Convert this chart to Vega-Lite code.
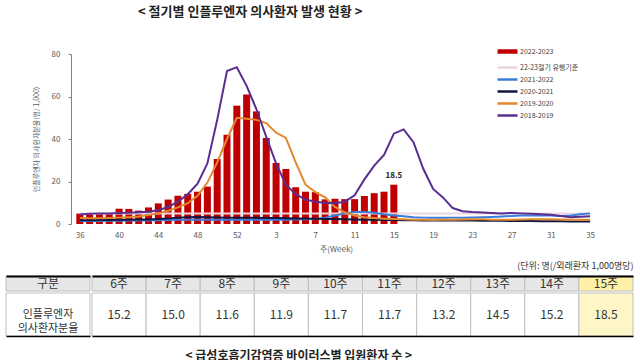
{
  "$schema": "https://vega.github.io/schema/vega-lite/v6.json",
  "background": "white",
  "padding": {"left": 5, "top": 6, "right": 5, "bottom": 0},
  "config": {
    "view": {"stroke": null},
    "font": "Noto Sans CJK KR",
    "title": {"font": "Noto Sans CJK KR", "color": "#222222"},
    "axis": {"labelFont": "Noto Sans CJK KR", "titleFont": "Noto Sans CJK KR", "labelOverlap": false},
    "axisX": {"labelOverlap": false, "labelSeparation": 0},
    "axisQuantitative": {"labelOverlap": false},
    "legend": {"labelFont": "Noto Sans CJK KR"}
  },
  "datasets": {
    "bars": [
      {"week": "36", "series": "2022-2023", "v": 4.9}, {"week": "37", "series": "2022-2023", "v": 4.7},
      {"week": "38", "series": "2022-2023", "v": 4.7}, {"week": "39", "series": "2022-2023", "v": 4.7},
      {"week": "40", "series": "2022-2023", "v": 7.2}, {"week": "41", "series": "2022-2023", "v": 7.1},
      {"week": "42", "series": "2022-2023", "v": 6.3}, {"week": "43", "series": "2022-2023", "v": 7.8},
      {"week": "44", "series": "2022-2023", "v": 9.7}, {"week": "45", "series": "2022-2023", "v": 11.5},
      {"week": "46", "series": "2022-2023", "v": 13.3}, {"week": "47", "series": "2022-2023", "v": 14.2},
      {"week": "48", "series": "2022-2023", "v": 15.2}, {"week": "49", "series": "2022-2023", "v": 17.6},
      {"week": "50", "series": "2022-2023", "v": 30.6}, {"week": "51", "series": "2022-2023", "v": 42.0},
      {"week": "52", "series": "2022-2023", "v": 55.7}, {"week": "53", "series": "2022-2023", "v": 60.9},
      {"week": "1", "series": "2022-2023", "v": 53.0}, {"week": "2", "series": "2022-2023", "v": 40.5},
      {"week": "3", "series": "2022-2023", "v": 28.7}, {"week": "4", "series": "2022-2023", "v": 25.9},
      {"week": "5", "series": "2022-2023", "v": 17.3}, {"week": "6", "series": "2022-2023", "v": 15.2},
      {"week": "7", "series": "2022-2023", "v": 15.0}, {"week": "8", "series": "2022-2023", "v": 11.6},
      {"week": "9", "series": "2022-2023", "v": 11.9}, {"week": "10", "series": "2022-2023", "v": 11.7},
      {"week": "11", "series": "2022-2023", "v": 11.7}, {"week": "12", "series": "2022-2023", "v": 13.2},
      {"week": "13", "series": "2022-2023", "v": 14.5}, {"week": "14", "series": "2022-2023", "v": 15.2},
      {"week": "15", "series": "2022-2023", "v": 18.5}
    ],
    "lines": [
      {"week":"36","series":"22-23절기 유행기준","v":4.9},{"week":"35","series":"22-23절기 유행기준","v":4.9},
      {"week":"36","series":"2021-2022","v":1.4},{"week":"37","series":"2021-2022","v":1.4},{"week":"38","series":"2021-2022","v":1.4},{"week":"39","series":"2021-2022","v":1.5},{"week":"40","series":"2021-2022","v":1.5},{"week":"41","series":"2021-2022","v":1.6},{"week":"42","series":"2021-2022","v":1.6},{"week":"43","series":"2021-2022","v":1.7},{"week":"44","series":"2021-2022","v":1.8},{"week":"45","series":"2021-2022","v":1.9},{"week":"46","series":"2021-2022","v":2.0},{"week":"47","series":"2021-2022","v":2.0},{"week":"48","series":"2021-2022","v":2.0},{"week":"49","series":"2021-2022","v":2.0},{"week":"50","series":"2021-2022","v":2.0},{"week":"51","series":"2021-2022","v":2.0},{"week":"52","series":"2021-2022","v":2.0},{"week":"53","series":"2021-2022","v":2.0},
      {"week":"1","series":"2021-2022","v":2.0},{"week":"2","series":"2021-2022","v":2.0},{"week":"3","series":"2021-2022","v":2.0},{"week":"4","series":"2021-2022","v":2.0},{"week":"5","series":"2021-2022","v":2.1},{"week":"6","series":"2021-2022","v":2.2},{"week":"7","series":"2021-2022","v":2.4},{"week":"8","series":"2021-2022","v":3.0},{"week":"9","series":"2021-2022","v":4.0},{"week":"10","series":"2021-2022","v":5.0},{"week":"11","series":"2021-2022","v":5.6},{"week":"12","series":"2021-2022","v":5.6},{"week":"13","series":"2021-2022","v":5.3},{"week":"14","series":"2021-2022","v":4.6},{"week":"15","series":"2021-2022","v":4.0},{"week":"16","series":"2021-2022","v":3.6},{"week":"17","series":"2021-2022","v":3.2},{"week":"18","series":"2021-2022","v":3.0},{"week":"19","series":"2021-2022","v":2.9},{"week":"20","series":"2021-2022","v":2.9},{"week":"21","series":"2021-2022","v":3.0},{"week":"22","series":"2021-2022","v":3.0},{"week":"23","series":"2021-2022","v":3.1},{"week":"24","series":"2021-2022","v":3.2},{"week":"25","series":"2021-2022","v":3.3},{"week":"26","series":"2021-2022","v":3.5},{"week":"27","series":"2021-2022","v":3.8},{"week":"28","series":"2021-2022","v":4.0},{"week":"29","series":"2021-2022","v":4.0},{"week":"30","series":"2021-2022","v":4.0},{"week":"31","series":"2021-2022","v":4.0},{"week":"32","series":"2021-2022","v":3.8},{"week":"33","series":"2021-2022","v":4.0},{"week":"34","series":"2021-2022","v":4.6},{"week":"35","series":"2021-2022","v":5.0},
      {"week":"36","series":"2020-2021","v":1.8},{"week":"37","series":"2020-2021","v":1.8},{"week":"38","series":"2020-2021","v":1.9},{"week":"39","series":"2020-2021","v":1.9},{"week":"40","series":"2020-2021","v":2.0},{"week":"41","series":"2020-2021","v":2.0},{"week":"42","series":"2020-2021","v":2.1},{"week":"43","series":"2020-2021","v":2.1},{"week":"44","series":"2020-2021","v":2.3},{"week":"45","series":"2020-2021","v":2.6},{"week":"46","series":"2020-2021","v":3.0},{"week":"47","series":"2020-2021","v":3.2},{"week":"48","series":"2020-2021","v":3.3},{"week":"49","series":"2020-2021","v":3.2},{"week":"50","series":"2020-2021","v":3.1},{"week":"51","series":"2020-2021","v":3.0},{"week":"52","series":"2020-2021","v":3.0},{"week":"53","series":"2020-2021","v":2.9},
      {"week":"1","series":"2020-2021","v":2.9},{"week":"2","series":"2020-2021","v":2.8},{"week":"3","series":"2020-2021","v":2.8},{"week":"4","series":"2020-2021","v":2.7},{"week":"5","series":"2020-2021","v":2.6},{"week":"6","series":"2020-2021","v":2.6},{"week":"7","series":"2020-2021","v":2.5},{"week":"8","series":"2020-2021","v":2.4},{"week":"9","series":"2020-2021","v":2.3},{"week":"10","series":"2020-2021","v":2.2},{"week":"11","series":"2020-2021","v":2.1},{"week":"12","series":"2020-2021","v":2.0},{"week":"13","series":"2020-2021","v":2.0},{"week":"14","series":"2020-2021","v":1.9},{"week":"15","series":"2020-2021","v":1.9},{"week":"16","series":"2020-2021","v":1.8},{"week":"17","series":"2020-2021","v":1.8},{"week":"18","series":"2020-2021","v":1.7},{"week":"19","series":"2020-2021","v":1.7},{"week":"20","series":"2020-2021","v":1.7},{"week":"21","series":"2020-2021","v":1.6},{"week":"22","series":"2020-2021","v":1.6},{"week":"23","series":"2020-2021","v":1.6},{"week":"24","series":"2020-2021","v":1.5},{"week":"25","series":"2020-2021","v":1.5},{"week":"26","series":"2020-2021","v":1.5},{"week":"27","series":"2020-2021","v":1.4},{"week":"28","series":"2020-2021","v":1.4},{"week":"29","series":"2020-2021","v":1.4},{"week":"30","series":"2020-2021","v":1.3},{"week":"31","series":"2020-2021","v":1.3},{"week":"32","series":"2020-2021","v":1.3},{"week":"33","series":"2020-2021","v":1.2},{"week":"34","series":"2020-2021","v":1.2},{"week":"35","series":"2020-2021","v":1.2},
      {"week":"36","series":"2019-2020","v":2.8},{"week":"37","series":"2019-2020","v":2.7},{"week":"38","series":"2019-2020","v":2.7},{"week":"39","series":"2019-2020","v":2.8},{"week":"40","series":"2019-2020","v":3.0},{"week":"41","series":"2019-2020","v":3.2},{"week":"42","series":"2019-2020","v":3.5},{"week":"43","series":"2019-2020","v":4.2},{"week":"44","series":"2019-2020","v":5.0},{"week":"45","series":"2019-2020","v":6.2},{"week":"46","series":"2019-2020","v":7.8},{"week":"47","series":"2019-2020","v":9.8},{"week":"48","series":"2019-2020","v":13.3},{"week":"49","series":"2019-2020","v":19.5},{"week":"50","series":"2019-2020","v":29.0},{"week":"51","series":"2019-2020","v":40.0},{"week":"52","series":"2019-2020","v":50.0},{"week":"53","series":"2019-2020","v":49.5},
      {"week":"1","series":"2019-2020","v":49.0},{"week":"2","series":"2019-2020","v":47.5},{"week":"3","series":"2019-2020","v":43.0},{"week":"4","series":"2019-2020","v":40.5},{"week":"5","series":"2019-2020","v":29.0},{"week":"6","series":"2019-2020","v":18.5},{"week":"7","series":"2019-2020","v":15.0},{"week":"8","series":"2019-2020","v":12.5},{"week":"9","series":"2019-2020","v":8.0},{"week":"10","series":"2019-2020","v":5.5},{"week":"11","series":"2019-2020","v":4.0},{"week":"12","series":"2019-2020","v":3.2},{"week":"13","series":"2019-2020","v":2.8},{"week":"14","series":"2019-2020","v":2.5},{"week":"15","series":"2019-2020","v":2.3},{"week":"16","series":"2019-2020","v":2.2},{"week":"17","series":"2019-2020","v":2.0},{"week":"18","series":"2019-2020","v":2.0},{"week":"19","series":"2019-2020","v":1.9},{"week":"20","series":"2019-2020","v":2.0},{"week":"21","series":"2019-2020","v":2.0},{"week":"22","series":"2019-2020","v":2.1},{"week":"23","series":"2019-2020","v":2.2},{"week":"24","series":"2019-2020","v":2.2},{"week":"25","series":"2019-2020","v":2.0},{"week":"26","series":"2019-2020","v":2.0},{"week":"27","series":"2019-2020","v":2.0},{"week":"28","series":"2019-2020","v":2.1},{"week":"29","series":"2019-2020","v":2.2},{"week":"30","series":"2019-2020","v":2.2},{"week":"31","series":"2019-2020","v":2.2},{"week":"32","series":"2019-2020","v":2.1},{"week":"33","series":"2019-2020","v":2.0},{"week":"34","series":"2019-2020","v":2.0},{"week":"35","series":"2019-2020","v":2.0},
      {"week":"36","series":"2018-2019","v":4.5},{"week":"37","series":"2018-2019","v":4.8},{"week":"38","series":"2018-2019","v":5.0},{"week":"39","series":"2018-2019","v":5.0},{"week":"40","series":"2018-2019","v":5.2},{"week":"41","series":"2018-2019","v":5.3},{"week":"42","series":"2018-2019","v":5.5},{"week":"43","series":"2018-2019","v":5.8},{"week":"44","series":"2018-2019","v":6.5},{"week":"45","series":"2018-2019","v":8.0},{"week":"46","series":"2018-2019","v":10.5},{"week":"47","series":"2018-2019","v":14.0},{"week":"48","series":"2018-2019","v":19.0},{"week":"49","series":"2018-2019","v":28.5},{"week":"50","series":"2018-2019","v":49.0},{"week":"51","series":"2018-2019","v":72.0},{"week":"52","series":"2018-2019","v":73.8},{"week":"53","series":"2018-2019","v":65.0},
      {"week":"1","series":"2018-2019","v":54.0},{"week":"2","series":"2018-2019","v":41.0},{"week":"3","series":"2018-2019","v":28.5},{"week":"4","series":"2018-2019","v":18.5},{"week":"5","series":"2018-2019","v":14.0},{"week":"6","series":"2018-2019","v":11.5},{"week":"7","series":"2018-2019","v":10.5},{"week":"8","series":"2018-2019","v":10.0},{"week":"9","series":"2018-2019","v":9.8},{"week":"10","series":"2018-2019","v":10.5},{"week":"11","series":"2018-2019","v":13.5},{"week":"12","series":"2018-2019","v":21.0},{"week":"13","series":"2018-2019","v":27.5},{"week":"14","series":"2018-2019","v":32.5},{"week":"15","series":"2018-2019","v":42.5},{"week":"16","series":"2018-2019","v":44.5},{"week":"17","series":"2018-2019","v":38.5},{"week":"18","series":"2018-2019","v":26.0},{"week":"19","series":"2018-2019","v":16.5},{"week":"20","series":"2018-2019","v":12.5},{"week":"21","series":"2018-2019","v":7.5},{"week":"22","series":"2018-2019","v":6.0},{"week":"23","series":"2018-2019","v":5.6},{"week":"24","series":"2018-2019","v":5.4},{"week":"25","series":"2018-2019","v":5.2},{"week":"26","series":"2018-2019","v":5.0},{"week":"27","series":"2018-2019","v":5.2},{"week":"28","series":"2018-2019","v":5.0},{"week":"29","series":"2018-2019","v":4.8},{"week":"30","series":"2018-2019","v":4.6},{"week":"31","series":"2018-2019","v":4.3},{"week":"32","series":"2018-2019","v":3.8},{"week":"33","series":"2018-2019","v":3.2},{"week":"34","series":"2018-2019","v":3.4},{"week":"35","series":"2018-2019","v":3.6}
    ],
    "hdr": [{"c": "6주"}, {"c": "7주"}, {"c": "8주"}, {"c": "9주"}, {"c": "10주"}, {"c": "11주"}, {"c": "12주"}, {"c": "13주"}, {"c": "14주"}, {"c": "15주"}],
    "vals": [
      {"c": "6주", "v": 15.2}, {"c": "7주", "v": 15.0}, {"c": "8주", "v": 11.6}, {"c": "9주", "v": 11.9}, {"c": "10주", "v": 11.7},
      {"c": "11주", "v": 11.7}, {"c": "12주", "v": 13.2}, {"c": "13주", "v": 14.5}, {"c": "14주", "v": 15.2}, {"c": "15주", "v": 18.5}
    ]
  },
  "title": {"text": "< 급성호흡기감염증 바이러스별 입원환자 수 >", "orient": "bottom", "anchor": "start", "dx": 180, "offset": 14, "fontSize": 12, "fontWeight": "bold"},
  "spacing": 8,
  "vconcat": [
    {
      "title": {"text": "< 절기별 인플루엔자 의사환자 발생 현황 >", "anchor": "start", "dx": 132, "offset": 31, "fontSize": 13, "fontWeight": "bold"},
      "width": 595,
      "height": 170,
      "layer": [
        {
          "data": {"name": "bars"},
          "transform": [{"calculate": "toNumber(datum.week) >= 36 ? toNumber(datum.week) - 35 : toNumber(datum.week) + 18", "as": "seasonWeek"}],
          "mark": {"type": "bar", "size": 7},
          "encoding": {
            "x": {"field": "seasonWeek", "type": "quantitative",
              "scale": {"domain": [-6.01, 53.6], "nice": false, "zero": false},
              "title": "주(Week)",
              "axis": {"values": [1,3,5,7,9,11,13,15,17,19,21,23,25,27,29,31,33,35,37,39,41,43,45,47,49,51,53],
                "labelExpr": "datum.value <= 18 ? datum.value + 35 : datum.value - 18",
                "labelOverlap": false, "labelFlush": false, "labelSeparation": 0,
                "grid": false, "labelFontSize": 8, "labelColor": "#595959", "ticks": false, "labelPadding": 7, "domain": false,
                "titleFontSize": 8, "titleFontWeight": "normal", "titleColor": "#595959", "titlePadding": 6, "titleX": 330}},
            "y": {"field": "v", "type": "quantitative", "scale": {"domain": [0, 80]},
              "title": "인플루엔자 의사환자분율(명/ 1,000)",
              "axis": {"values": [0, 20, 40, 60, 80], "grid": false, "offset": -65, "labelFontSize": 8, "labelColor": "#595959", "tickSize": 3, "tickColor": "#7F7F7F", "domainColor": "#7F7F7F", "labelPadding": 8,
                "titleFontSize": 7, "titleFontWeight": "normal", "titleColor": "#595959", "titlePadding": 12}},
            "color": {"field": "series", "type": "nominal",
              "scale": {"domain": ["2022-2023", "22-23절기 유행기준", "2021-2022", "2020-2021", "2019-2020", "2018-2019"],
                "range": ["#C00000", "#E9D6E0", "#3C7DD9", "#141440", "#E0892E", "#5A2D91"]},
              "legend": {"title": null, "orient": "none", "legendX": 498, "legendY": -6, "symbolType": "M-2.5,0H2.5", "symbolSize": 64, "symbolStrokeWidth": 2.5,
                "labelFontSize": 7, "labelColor": "#404040", "rowPadding": 1, "labelOffset": 9,
                "encode": {"symbols": {"update": {"stroke": {"scale": "color", "field": "value"}, "fill": {"value": "transparent"},
                  "strokeWidth": {"signal": "datum.value === '2022-2023' ? 4.5 : 2.5"}}}}}}
          }
        },
        {
          "data": {"name": "lines"},
          "transform": [{"calculate": "toNumber(datum.week) >= 36 ? toNumber(datum.week) - 35 : toNumber(datum.week) + 18", "as": "seasonWeek"}],
          "mark": {"type": "line", "strokeWidth": 2},
          "encoding": {
            "x": {"field": "seasonWeek", "type": "quantitative"},
            "y": {"field": "v", "type": "quantitative"},
            "color": {"field": "series", "type": "nominal"}
          }
        },
        {
          "data": {"name": "bars"},
          "transform": [
            {"filter": "datum.week === '15'"},
            {"calculate": "toNumber(datum.week) >= 36 ? toNumber(datum.week) - 35 : toNumber(datum.week) + 18", "as": "seasonWeek"}
          ],
          "mark": {"type": "text", "dy": -9, "fontSize": 8, "fontWeight": "bold", "color": "#222222"},
          "encoding": {
            "x": {"field": "seasonWeek", "type": "quantitative"},
            "y": {"field": "v", "type": "quantitative"},
            "text": {"field": "v", "type": "quantitative", "format": ".1f"}
          }
        }
      ]
    },
    {
      "title": {"text": "(단위: 명(/외래환자 1,000명당)", "anchor": "end", "fontSize": 9, "fontWeight": "normal", "color": "#333333", "offset": 5},
      "spacing": 0,
      "vconcat": [
        {
          "spacing": 0,
          "hconcat": [
            {
              "width": 84, "height": 15,
              "data": {"values": [{"k": "구분"}]},
              "layer": [
                {"mark": {"type": "rect", "fill": "#E7E6E6", "stroke": "#BFBFBF", "strokeWidth": 1},
                 "encoding": {"x": {"field": "k", "type": "nominal", "axis": {"orient": "top", "labels": false, "ticks": false, "domainColor": "#000000", "domainWidth": 2, "title": null}}}},
                {"mark": {"type": "text", "fontSize": 12, "color": "#333333"},
                 "encoding": {"x": {"field": "k", "type": "nominal"}, "text": {"field": "k"}}}
              ]
            },
            {
              "width": 541, "height": 15,
              "data": {"name": "hdr"},
              "layer": [
                {"mark": {"type": "rect", "stroke": "#BFBFBF", "strokeWidth": 1},
                 "encoding": {"x": {"field": "c", "type": "nominal", "sort": null, "axis": {"orient": "top", "labels": false, "ticks": false, "domainColor": "#000000", "domainWidth": 2, "title": null}},
                   "fill": {"condition": {"test": "datum.c === '15주'", "value": "#FFF0A8"}, "value": "#E7E6E6"}}},
                {"mark": {"type": "text", "fontSize": 12, "color": "#333333"},
                 "encoding": {"x": {"field": "c", "type": "nominal", "sort": null}, "text": {"field": "c"},
                   "fontWeight": {"condition": {"test": "datum.c === '15주'", "value": "bold"}, "value": "normal"}}}
              ]
            }
          ]
        },
        {
          "spacing": 0,
          "hconcat": [
            {
              "width": 84, "height": 43,
              "data": {"values": [{"k": "인플루엔자\n의사환자분율"}]},
              "layer": [
                {"mark": {"type": "rect", "fill": "#FFFFFF", "stroke": "#BFBFBF", "strokeWidth": 1},
                 "encoding": {"x": {"field": "k", "type": "nominal", "axis": {"orient": "bottom", "labels": false, "ticks": false, "domainColor": "#000000", "domainWidth": 1.5, "title": null}}}},
                {"mark": {"type": "text", "fontSize": 11, "color": "#333333", "lineBreak": "\n", "lineHeight": 14},
                 "encoding": {"x": {"field": "k", "type": "nominal"}, "text": {"field": "k"}}}
              ]
            },
            {
              "width": 541, "height": 43,
              "data": {"name": "vals"},
              "layer": [
                {"mark": {"type": "rect", "stroke": "#BFBFBF", "strokeWidth": 1},
                 "encoding": {"x": {"field": "c", "type": "nominal", "sort": null, "axis": {"orient": "bottom", "labels": false, "ticks": false, "domainColor": "#000000", "domainWidth": 1.5, "title": null}},
                   "fill": {"condition": {"test": "datum.c === '15주'", "value": "#FFF6C8"}, "value": "#FFFFFF"}}},
                {"mark": {"type": "text", "fontSize": 12, "color": "#333333"},
                 "encoding": {"x": {"field": "c", "type": "nominal", "sort": null}, "text": {"field": "v", "type": "quantitative", "format": ".1f"},
                   "fontWeight": {"condition": {"test": "datum.c === '15주'", "value": "bold"}, "value": "normal"}}}
              ]
            }
          ]
        }
      ]
    }
  ]
}
